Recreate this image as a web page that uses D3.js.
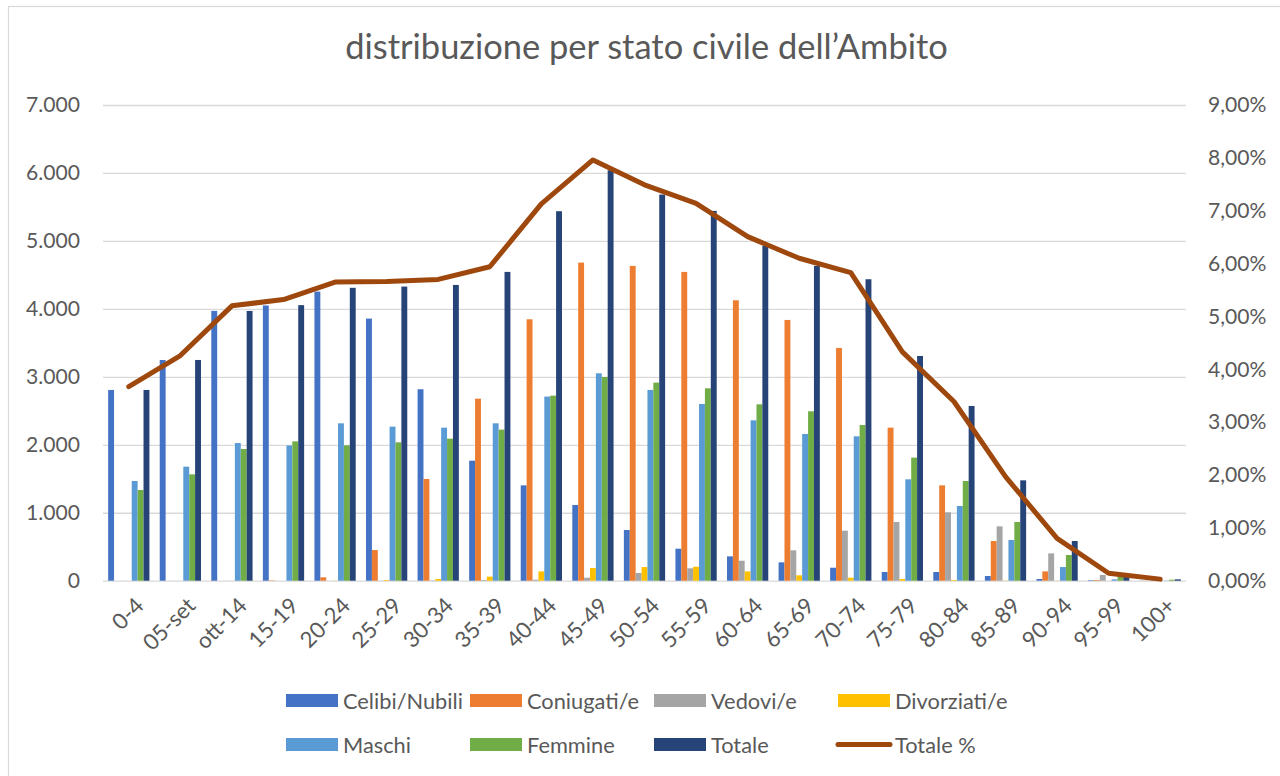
<!DOCTYPE html>
<html><head><meta charset="utf-8">
<script src="https://cdn.jsdelivr.net/npm/d3@7"></script>
<style>body{margin:0;background:#fff}</style>
</head><body>
<svg id="c" width="1280" height="776"></svg>
<script>
// ---------- data ----------
const categories = ["0-4","05-set","ott-14","15-19","20-24","25-29","30-34","35-39","40-44","45-49","50-54","55-59","60-64","65-69","70-74","75-79","80-84","85-89","90-94","95-99","100+"];
const celibi     = [2807,3248,3970,4050,4254,3857,2817,1766,1403,1114, 746, 471, 358, 270, 191, 128, 128,  69,  25,   8,  2];
const coniugati  = [   0,   0,   0,   5,  50, 451,1497,2679,3847,4681,4632,4544,4127,3837,3425,2252,1403, 584, 137,  10,  2];
const vedovi     = [   0,   0,   0,   0,   0,   2,   5,  10,  15,  44, 113, 182, 294, 447, 736, 864,1006, 800, 402,  85, 15];
const divorziati = [   0,   0,   0,   0,   2,  10,  25,  60, 137, 186, 201, 206, 137,  79,  44,  25,  10,   3,   2,   0,  0];
const maschi     = [1467,1678,2026,1990,2316,2267,2252,2316,2709,3052,2807,2601,2360,2159,2125,1492,1099, 599, 201,  20,  3];
const femmine    = [1335,1565,1938,2050,1992,2036,2090,2223,2723,2998,2915,2831,2596,2493,2291,1811,1467, 864, 378,  85, 15];
const totale     = [2807,3248,3970,4055,4310,4328,4352,4544,5437,6040,5682,5442,4926,4632,4436,3307,2571,1477, 584, 100, 20];
const totalePct  = [0.0367,0.0426,0.0520,0.0532,0.0565,0.0566,0.0570,0.0594,0.0713,0.0796,0.0749,0.0714,0.0651,0.0610,0.0583,0.0433,0.0339,0.0197,0.0080,0.0014,0.0003];

const barSeries  = ["Celibi/Nubili","Coniugati/e","Vedovi/e","Divorziati/e","Maschi","Femmine","Totale"];
const barValues  = [celibi,coniugati,vedovi,divorziati,maschi,femmine,totale];
const barColors  = ["#4472C4","#ED7D31","#A5A5A5","#FFC000","#5B9BD5","#70AD47","#264478"];
const lineName   = "Totale %";
const lineColor  = "#9E480E";
const leftTicks  = [0,1000,2000,3000,4000,5000,6000,7000];
const rightTicks = [0,0.01,0.02,0.03,0.04,0.05,0.06,0.07,0.08,0.09];
const title      = "distribuzione per stato civile dell’Ambito";

// ---------- layout ----------
const svg = d3.select("#c");
const FONT = "Lato, 'Open Sans', sans-serif";
const TXT = "#595959";
const plot = {left:103, right:1186, top:105, bottom:580.7};

function fitSize(text, target){
  const t = svg.append("text").attr("font-family",FONT).attr("font-size",100).text(text);
  const w = t.node().getComputedTextLength(); t.remove();
  return 100*target/w;
}
const titleSize = fitSize(title, 603);
const tickSize  = fitSize("7.000", 54);
const xLabSize  = tickSize*1.05;
const legSize   = fitSize("Celibi/Nubili", 120);

// chart border
svg.append("rect").attr("x",8.5).attr("y",6.5).attr("width",1400).attr("height",900)
  .attr("fill","none").attr("stroke","#D9D9D9").attr("stroke-width",1.2);

// scales
const x0 = d3.scaleBand().domain(categories).range([plot.left, plot.right]).padding(0);
const bw = x0.bandwidth();
const gap = bw*0.2;
const x1 = d3.scaleBand().domain(barSeries).range([gap/2, bw-gap/2]).padding(0);
const yL = d3.scaleLinear().domain([0,7000]).range([plot.bottom, plot.top]);
const yR = d3.scaleLinear().domain([0,0.09]).range([plot.bottom, plot.top]);

// left axis with gridlines
const fmtL = d => d3.format(",")(d).replace(/,/g,".");
const gL = svg.append("g").attr("transform",`translate(${plot.left},0)`)
  .call(d3.axisLeft(yL).tickValues(leftTicks).tickSize(-(plot.right-plot.left)).tickPadding(23).tickFormat(fmtL));
gL.select(".domain").remove();
gL.selectAll(".tick line").attr("stroke","#D9D9D9").attr("stroke-width",1.3);
gL.selectAll(".tick text").attr("fill",TXT).attr("font-family",FONT).attr("font-size",tickSize);

// right axis
const fmtR = d => (d*100).toFixed(2).replace(".",",")+"%";
const gR = svg.append("g").attr("transform",`translate(${plot.right},0)`)
  .call(d3.axisRight(yR).tickValues(rightTicks).tickSize(0).tickPadding(22).tickFormat(fmtR));
gR.select(".domain").remove();
gR.selectAll(".tick text").attr("fill",TXT).attr("font-family",FONT).attr("font-size",tickSize);

// bars
const groups = svg.append("g").selectAll("g").data(categories).join("g")
  .attr("transform", d => `translate(${x0(d)},0)`);
groups.selectAll("rect").data((c,i) => barSeries.map((s,k) => ({s, v: barValues[k][i], k})))
  .join("rect")
  .attr("x", d => x1(d.s))
  .attr("width", x1.bandwidth())
  .attr("y", d => yL(d.v))
  .attr("height", d => yL(0)-yL(d.v))
  .attr("fill", d => barColors[d.k]);

// x axis labels
const gX = svg.append("g").attr("transform",`translate(0,${plot.bottom})`)
  .call(d3.axisBottom(x0).tickSize(0).tickPadding(0));
gX.select(".domain").remove();
gX.selectAll(".tick text")
  .attr("fill",TXT).attr("font-family",FONT).attr("font-size",xLabSize)
  .attr("text-anchor","end").attr("dominant-baseline","hanging").attr("dy",0).attr("y",0)
  .attr("transform","translate(4,14) rotate(-45)");

// line
const line = d3.line().x((d,i) => x0(categories[i]) + bw/2).y(d => yR(d));
svg.append("path").datum(totalePct).attr("d", line)
  .attr("fill","none").attr("stroke",lineColor).attr("stroke-width",5)
  .attr("stroke-linecap","round").attr("stroke-linejoin","round");

// title
svg.append("text").attr("x",646.5).attr("y",59).attr("text-anchor","middle")
  .attr("font-family",FONT).attr("font-size",titleSize).attr("fill",TXT).text(title);

// legend
const legItems = barSeries.map((s,k) => ({name:s, color:barColors[k], type:"rect"}))
  .concat([{name:lineName, color:lineColor, type:"line"}]);
const colX = [286,470,654,838];
const rowY = [700.5,744.5];
const leg = svg.append("g").selectAll("g").data(legItems).join("g")
  .attr("transform",(d,i) => `translate(${colX[i%4]},${rowY[Math.floor(i/4)]})`);
leg.filter(d => d.type==="rect").append("rect")
  .attr("x",0).attr("y",-6.5).attr("width",52).attr("height",13).attr("fill",d => d.color);
leg.filter(d => d.type==="line").append("line")
  .attr("x1",0).attr("x2",52).attr("y1",0).attr("y2",0)
  .attr("stroke",d => d.color).attr("stroke-width",5).attr("stroke-linecap","round");
leg.append("text").attr("x",57).attr("y",0).attr("dominant-baseline","central")
  .attr("font-family",FONT).attr("font-size",legSize).attr("fill",TXT).text(d => d.name);
</script>
</body></html>
